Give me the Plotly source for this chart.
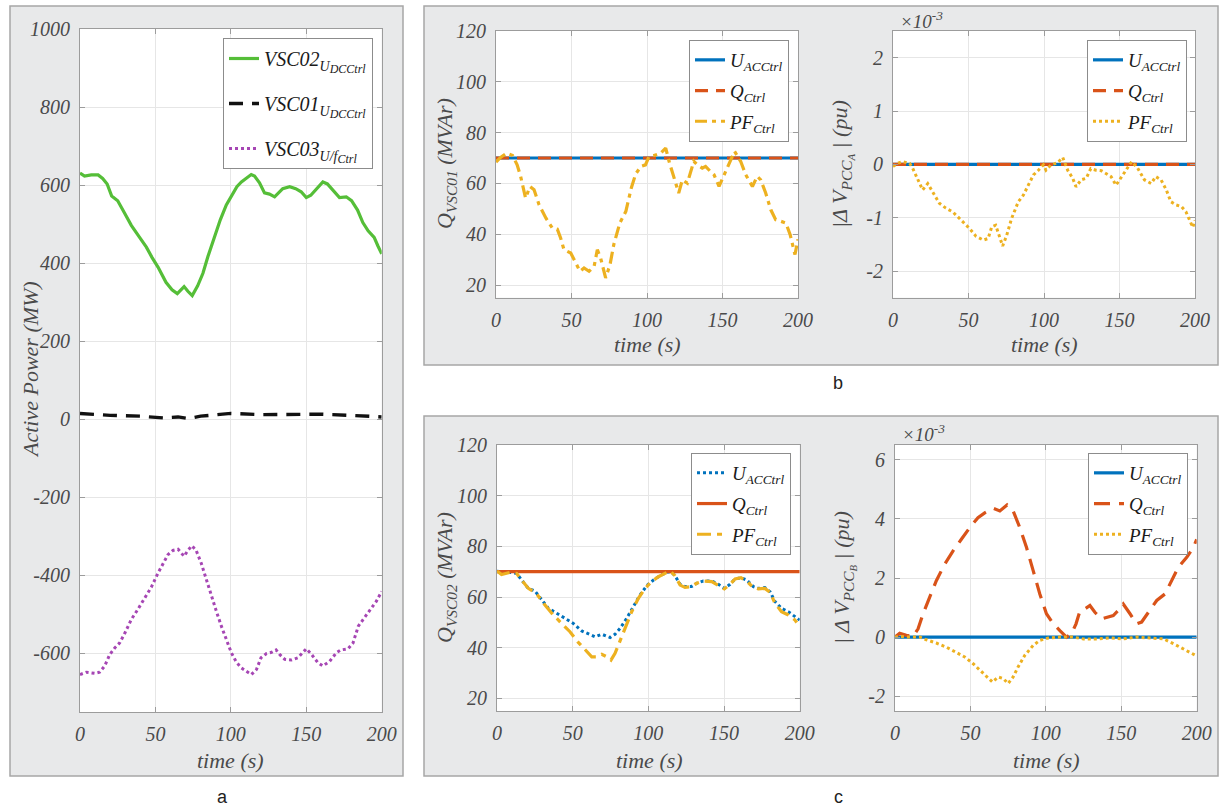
import plotly.graph_objects as go

W, H = 1219, 807

# ---------------- Panel a: active power (MW) ----------------
t_a_vsc02 = [0, 3, 7.5, 12, 15, 18, 21, 25, 29.6, 34, 39.5, 44, 47.7, 51.7, 57, 61, 64.5, 69, 71.5, 74.4,
             78, 81.5, 84.8, 89, 93, 97, 100.7, 104, 107, 110, 113.5, 115.7, 119, 122.3, 125.6, 129, 132,
             134.4, 139, 143, 146.6, 150, 153, 157, 161, 164, 169, 172, 176.5, 180, 184, 187.5, 191, 195,
             197.5, 200]
p_vsc02 = [631, 623, 626, 626, 617, 603, 572, 560, 528, 497, 466, 441, 415, 390, 351, 332, 322, 340, 328, 317,
           342, 374, 417, 464, 511, 549, 574, 596, 608, 617, 627, 623, 606, 580, 577, 570, 583,
           591, 596, 591, 583, 568, 574, 591, 608, 603, 580, 568, 570, 560, 536, 504, 483, 466,
           444, 424]

t_a_vsc01 = [0, 20, 40, 55, 65, 72, 80, 100, 120, 140, 160, 180, 190, 200]
p_vsc01 = [15, 10, 8, 3.5, 6, 2, 8, 15, 12, 13, 13, 10, 8, 6]

t_a_vsc03 = [0, 4.2, 9.7, 13, 16.4, 19.7, 23, 26.3, 29.6, 34, 38.5, 42.9, 47.3, 51.7, 55, 58.3, 61.6, 65, 69,
             71.5, 74.2, 77, 80.4, 83.7, 87, 90.4, 93.7, 97, 100.3, 103.6, 107, 110, 113.6, 117, 120, 123.7,
             127, 130, 132.5, 135.7, 140, 144.5, 150, 153, 157.8, 161, 165.5, 170, 173, 177.7, 181, 184.5,
             189, 193, 196.5, 200]
p_vsc03 = [-654, -648, -651, -648, -632, -603, -586, -573, -549, -513, -486, -458, -430, -394, -369, -347, -336,
           -333, -351, -336, -324, -336, -369, -411, -454, -492, -530, -564, -598, -622, -637, -645, -654, -641,
           -611, -600, -597, -591, -603, -615, -617, -611, -588, -600, -624, -632, -620, -598, -591, -588, -573,
           -530, -505, -483, -466, -441]

# ---------------- Panel b: VSC01 reactive power and PCC A voltage ----------------
t_const = [0, 200]
q_vsc01_uac = [70, 70]
q_vsc01_qctrl = [70, 70]
t_b_pf = [0, 3, 7, 11, 14, 16.3, 19.6, 22.5, 25.2, 28.5, 33, 37.3, 40.6, 42.8, 45, 49.5, 52.8, 55.6, 58.3,
          61.6, 65, 67.1, 69.3, 72.6, 75.5, 78, 82, 86, 89.6, 92.5, 96, 99, 101.3, 104.6, 109, 112.4, 114.6,
          118, 121, 123.4, 126.7, 131, 133.3, 136.6, 138.8, 142, 144.4, 147.7, 151, 154.3, 158, 162, 165.4,
          169.8, 173, 175.3, 178.6, 182, 185.2, 188.6, 192, 194.8, 198, 200]
q_vsc01_pf = [68.4, 70.2, 71.9, 71, 67.3, 62.8, 54.2, 58.8, 57.5, 51.6, 46.4, 42.4, 42, 38.5, 33.9, 32.6, 28.7,
              25.4, 26.7, 25.4, 27.4, 33.9, 30.6, 22.8, 28, 35.9, 44.4, 49, 58.2, 63.7, 66.7, 67.3, 70.6, 71,
              71.9, 73.9, 68.7, 62.1, 56.2, 61.4, 60.1, 68.7, 67.3, 66, 66.7, 64.7, 63.4, 58.8, 63.4, 68, 72.6,
              68.7, 63.4, 58.8, 62.8, 61.4, 56.2, 49.6, 45.7, 45.1, 44.4, 39.8, 32, 38]

dv_a_uac = [0, 0]
dv_a_qctrl = [0, 0]
t_b_dv_pf = [0, 3, 6.4, 11, 13, 16.3, 19.6, 23, 26.3, 30.7, 35, 39.5, 42.8, 46, 50.6, 55, 59.8, 63, 65.4, 68,
             70.9, 72.6, 75.3, 78.6, 83, 86.3, 89.6, 93, 96.3, 99.6, 101.3, 104.6, 109, 112.4, 115.7, 119,
             121.2, 124.6, 128, 131, 134.4, 138, 141, 144.4, 147.7, 151, 154.3, 158, 162, 166.5, 171, 174,
             177.5, 181, 184, 187.5, 191, 194, 196.5, 198.5, 200]
dv_a_pf = [-0.04, 0.02, 0.05, 0.02, -0.07, -0.29, -0.48, -0.36, -0.51, -0.73, -0.82, -0.89, -0.98, -1.07, -1.2,
           -1.35, -1.42, -1.39, -1.17, -1.14, -1.39, -1.53, -1.33, -1.01, -0.7, -0.58, -0.39, -0.2, -0.11, -0.01,
           -0.11, -0.01, 0.03, 0.13, -0.11, -0.26, -0.42, -0.29, -0.26, -0.08, -0.11, -0.12, -0.17, -0.23, -0.39,
           -0.26, -0.11, 0.05, -0.07, -0.29, -0.36, -0.23, -0.29, -0.48, -0.7, -0.76, -0.79, -0.89, -1.04, -1.18,
           -1.05]

# ---------------- Panel c: VSC02 reactive power and PCC B voltage ----------------
t_c_uac = [0, 3, 8.6, 13, 16.3, 20.7, 25, 29.5, 34, 39.4, 45, 50.4, 56, 61.5, 64.8, 69.2, 74.7, 78, 81.3, 85.7,
           90.1, 94.5, 99, 103.4, 107.7, 112.1, 115, 117.6, 121, 124.2, 128.5, 131.9, 136.3, 141.9, 146.3,
           150.2, 154, 157.3, 161.2, 165, 169.4, 172.7, 177, 180.4, 183.7, 188, 192.5, 196.9, 200]
q_vsc02_uac = [70.3, 69.3, 69.7, 69.3, 66.7, 63.4, 62.4, 58.8, 55.5, 53.6, 51.6, 49.6, 46.6, 45, 44.3, 45.3, 44,
               45.3, 47.6, 51.6, 56.2, 60.8, 64.5, 66.7, 68.4, 69.7, 70, 68.4, 65, 64.1, 64.1, 65.4, 66.3, 66.3,
               65, 63.4, 65, 67.1, 67.6, 66.7, 64.1, 63.4, 63.7, 62.1, 58.2, 55.5, 54.2, 52.2, 50.9]
q_vsc02_qctrl = [70, 70]
t_c_pf = [0, 3, 8.6, 13, 16.3, 20.7, 26, 31.7, 37.2, 42.7, 48.2, 53.7, 58.2, 62.6, 65.9, 69.2, 72.5, 75.3, 78,
          81.3, 84.6, 89, 93.4, 97.8, 102.2, 106.6, 111, 114.3, 117.6, 121, 124.2, 128.5, 131.9, 136.3, 141.9,
          146.3, 150.2, 154, 157.3, 161.2, 165, 169.4, 172.7, 177, 180.4, 183.7, 188, 192.5, 196.9, 200]
q_vsc02_pf = [70.3, 68.9, 69.7, 69.3, 66.7, 63.4, 61.4, 56.8, 52.9, 49.6, 46.3, 42.1, 39.1, 36.4, 36.4, 37.4,
              36.4, 35.1, 37.8, 42.4, 47.6, 54.2, 59.5, 63.4, 66.1, 68, 69.3, 70.3, 68.4, 64.7, 63.8, 64.1, 65.4,
              66.3, 66.1, 64.7, 63.2, 65, 67.1, 67.6, 66.3, 63.7, 63.2, 63.4, 61.8, 57.5, 54.2, 52.9, 50.9, 48.3]

dv_b_uac = [0, 0]
t_c_dv_q = [0, 3.1, 7.5, 12, 15.3, 18.6, 23, 27.4, 33, 38.5, 44, 49.6, 55, 59.7, 65, 69.5, 74.3, 78.3, 82.7,
            87.2, 91.6, 96, 100.4, 104.9, 109.3, 113.7, 117, 120, 122.6, 126, 129.2, 132.5, 137, 140.3, 144.7,
            148, 151.3, 155.8, 160.2, 163.5, 168, 173.5, 179, 183.4, 187.8, 193.4, 197.8, 200]
dv_b_qctrl = [0, 0.13, 0.06, 0.02, 0.28, 0.79, 1.35, 1.91, 2.47, 2.92, 3.31, 3.71, 4.04, 4.21, 4.36, 4.27, 4.47,
              4.27, 3.71, 3.03, 2.25, 1.46, 0.79, 0.45, 0.22, 0, 0.11, 0.45, 0.88, 0.96, 1.07, 0.84, 0.62, 0.67,
              0.73, 0.9, 1.12, 0.79, 0.45, 0.51, 0.84, 1.24, 1.46, 1.91, 2.36, 2.7, 3.03, 3.31]
t_c_dv_pf = [0, 3, 9.7, 16.4, 20.8, 27.4, 34, 40.7, 46.2, 51.8, 56.2, 60.6, 64.6, 68.4, 71.7, 75, 78.3, 81.6,
             86, 91.6, 96, 101.5, 109.3, 118, 124.8, 133.6, 142.5, 151.3, 160, 169, 178, 184.5, 191, 197.8, 200]
dv_b_pf = [0, 0.02, 0, 0, -0.09, -0.2, -0.34, -0.51, -0.67, -0.9, -1.12, -1.35, -1.52, -1.35, -1.4, -1.57, -1.35,
           -1.01, -0.62, -0.28, -0.11, -0.03, 0, 0, -0.06, -0.06, -0.03, -0.06, 0, -0.03, -0.06, -0.22, -0.39,
           -0.56, -0.64]

# ---------------- Tick labels ----------------
x_ticks = [0, 50, 100, 150, 200]
x_ticktext = ["0", "50", "100", "150", "200"]
a_yticks = [-600, -400, -200, 0, 200, 400, 600, 800, 1000]
a_yticktext = ["-600", "-400", "-200", "0", "200", "400", "600", "800", "1000"]
q_yticks = [20, 40, 60, 80, 100, 120]
q_yticktext = ["20", "40", "60", "80", "100", "120"]
dva_yticks = [-2, -1, 0, 1, 2]
dva_yticktext = ["-2", "-1", "0", "1", "2"]
dvb_yticks = [-2, 0, 2, 4, 6]
dvb_yticktext = ["-2", "0", "2", "4", "6"]

# ---------------- Styling ----------------
BLUE = "#0072BD"
RED = "#D95319"
YEL = "#EDB120"
GREEN = "#55BE38"
PURPLE = "#A646B4"
BLACK = "#111111"
SERIF = "Liberation Serif, DejaVu Serif, serif"
TXT = "#4a4a4a"


def fx(px):
    return px / W


def fy(py):
    return 1 - py / H


fig = go.Figure()


def add_line(x, y, name, color, axis, legend, group, width=3.2, dash="solid"):
    fig.add_trace(go.Scatter(x=x, y=y, mode="lines", line=dict(color=color, width=width, dash=dash),
                             name=name, xaxis="x" + axis, yaxis="y" + axis, legend=legend,
                             legendgroup=group))


SUBA = "<sub>U<sub><span style='font-size:12px'>DCCtrl</span></sub></sub>"
SUBF = "<sub>U/f<sub><span style='font-size:12px'>Ctrl</span></sub></sub>"

# panel a
add_line(t_a_vsc02, p_vsc02, "VSC02" + SUBA, GREEN, "", "legend", "a1")
add_line(t_a_vsc01, p_vsc01, "VSC01" + SUBA, BLACK, "", "legend", "a2", 3.4, "14px,9px")
add_line(t_a_vsc03, p_vsc03, "VSC03" + SUBF, PURPLE, "", "legend", "a3", 3, "3px,3px")

# panel b left
add_line(t_const, q_vsc01_uac, "U<sub>ACCtrl</sub>", BLUE, "2", "legend2", "b1")
add_line(t_const, q_vsc01_qctrl, "Q<sub>Ctrl</sub>", RED, "2", "legend2", "b2", 3.2, "13px,8px")
add_line(t_b_pf, q_vsc01_pf, "PF<sub>Ctrl</sub>", YEL, "2", "legend2", "b3", 3.2, "12px,5px,4px,5px")

# panel b right
add_line(t_const, dv_a_uac, "U<sub>ACCtrl</sub>", BLUE, "3", "legend3", "c1")
add_line(t_const, dv_a_qctrl, "Q<sub>Ctrl</sub>", RED, "3", "legend3", "c2", 3.2, "13px,8px")
add_line(t_b_dv_pf, dv_a_pf, "PF<sub>Ctrl</sub>", YEL, "3", "legend3", "c3", 3, "3px,3px")

# panel c left
add_line(t_c_uac, q_vsc02_uac, "U<sub>ACCtrl</sub>", BLUE, "4", "legend4", "d1", 3, "3px,3px")
add_line(t_const, q_vsc02_qctrl, "Q<sub>Ctrl</sub>", RED, "4", "legend4", "d2")
add_line(t_c_pf, q_vsc02_pf, "PF<sub>Ctrl</sub>", YEL, "4", "legend4", "d3", 3.2, "14px,6px,5px,6px")

# panel c right
add_line(t_const, dv_b_uac, "U<sub>ACCtrl</sub>", BLUE, "5", "legend5", "e1")
add_line(t_c_dv_q, dv_b_qctrl, "Q<sub>Ctrl</sub>", RED, "5", "legend5", "e2", 3.2, "16px,9px")
add_line(t_c_dv_pf, dv_b_pf, "PF<sub>Ctrl</sub>", YEL, "5", "legend5", "e3", 3, "3px,3px")

tickfont = dict(family=SERIF, size=20, color=TXT, style="italic")
common_x = dict(range=[0, 200], tickmode="array", tickvals=x_ticks, ticktext=x_ticktext,
                showline=True, mirror="ticks", linecolor="#9c9c9c", linewidth=1,
                ticks="inside", ticklen=5, tickcolor="#9c9c9c", showgrid=True, gridcolor="#e6e6e6",
                zeroline=False, tickfont=tickfont, ticklabelstandoff=4, fixedrange=True, automargin=False)
common_y = dict(showline=True, mirror="ticks", linecolor="#9c9c9c", linewidth=1,
                ticks="inside", ticklen=5, tickcolor="#9c9c9c", showgrid=True, gridcolor="#e6e6e6",
                zeroline=False, tickfont=tickfont, tickmode="array", ticklabelstandoff=5, fixedrange=True,
                automargin=False)

doms = {
    "a": ((80, 381.7), (29, 712)),
    "bL": ((496, 798), (31, 297.7)),
    "bR": ((893, 1195), (31, 297.7)),
    "cL": ((497, 799.7), (445, 711)),
    "cR": ((895, 1196.7), (445, 711)),
}


def xd(k):
    (x0, x1), _ = doms[k]
    return [fx(x0), fx(x1)]


def yd(k):
    _, (y0, y1) = doms[k]
    return [fy(y1), fy(y0)]


layout = dict(
    width=W, height=H, autosize=False,
    margin=dict(l=0, r=0, t=0, b=0, pad=0, autoexpand=False),
    paper_bgcolor="white", plot_bgcolor="white",
    showlegend=True,
    xaxis=dict(domain=xd("a"), anchor="y", **common_x),
    yaxis=dict(domain=yd("a"), anchor="x", range=[-750, 1000], tickvals=a_yticks, ticktext=a_yticktext, **common_y),
    xaxis2=dict(domain=xd("bL"), anchor="y2", **common_x),
    yaxis2=dict(domain=yd("bL"), anchor="x2", range=[15, 120], tickvals=q_yticks, ticktext=q_yticktext, **common_y),
    xaxis3=dict(domain=xd("bR"), anchor="y3", **common_x),
    yaxis3=dict(domain=yd("bR"), anchor="x3", range=[-2.5, 2.5], tickvals=dva_yticks, ticktext=dva_yticktext, **common_y),
    xaxis4=dict(domain=xd("cL"), anchor="y4", **common_x),
    yaxis4=dict(domain=yd("cL"), anchor="x4", range=[15, 120], tickvals=q_yticks, ticktext=q_yticktext, **common_y),
    xaxis5=dict(domain=xd("cR"), anchor="y5", **common_x),
    yaxis5=dict(domain=yd("cR"), anchor="x5", range=[-2.5, 6.5], tickvals=dvb_yticks, ticktext=dvb_yticktext, **common_y),
)


def leg(xr, yt, size, gap):
    return dict(x=fx(xr), y=fy(yt), xanchor="right", yanchor="top", xref="paper", yref="paper",
                bgcolor="white", bordercolor="#8c8c8c", borderwidth=1,
                font=dict(family=SERIF, size=size, color="#1a1a1a", style="italic"),
                traceorder="grouped", tracegroupgap=gap, itemwidth=30)


layout["legend"] = leg(373, 38, 20, 16)
layout["legend2"] = leg(789, 40, 19, 3)
layout["legend3"] = leg(1187, 40, 19, 3)
layout["legend4"] = leg(791, 453, 19, 3)
layout["legend5"] = leg(1188, 453, 19, 3)

fig.update_layout(**layout)

# background panel boxes and white plot areas
shapes = []
for (x0, y0, x1, y1) in [(10, 6, 403, 776), (424, 6, 1218, 365), (424, 416, 1218, 776)]:
    shapes.append(dict(type="rect", xref="paper", yref="paper", x0=fx(x0), x1=fx(x1), y0=fy(y1), y1=fy(y0),
                       fillcolor="#e8e9ea", line=dict(color="#a6a6a6", width=1.5), layer="below"))
for k, ((x0, x1), (y0, y1)) in doms.items():
    shapes.append(dict(type="rect", xref="paper", yref="paper", x0=fx(x0), x1=fx(x1), y0=fy(y1), y1=fy(y0),
                       fillcolor="white", line=dict(width=0), layer="below"))
fig.update_layout(shapes=shapes)

titlefont = dict(family=SERIF, size=22, color=TXT, style="italic")
ann = []


def add_text(text, px, py, angle=0, font=titlefont):
    ann.append(dict(text=text, x=fx(px), y=fy(py), xref="paper", yref="paper", showarrow=False,
                    xanchor="center", yanchor="middle", textangle=angle, font=font))


add_text("Active Power (MW)", 30, 370, -90)
add_text("time (s)", 231, 760)
add_text("Q<sub>VSC01</sub> (MVAr)", 446, 164, -90)
add_text("time (s)", 647, 345)
add_text("|Δ V<sub>PCC<sub>A</sub></sub> | (pu)", 842, 164, -90)
add_text("time (s)", 1044, 345)
add_text("Q<sub>VSC02</sub> (MVAr)", 446, 578, -90)
add_text("time (s)", 649, 760)
add_text("| Δ V<sub>PCC<sub>B</sub></sub> | (pu)", 844, 578, -90)
add_text("time (s)", 1046, 760)

expfont = dict(family=SERIF, size=19, color=TXT, style="italic")
add_text("×10<sup>-3</sup>", 921, 20, 0, expfont)
add_text("×10<sup>-3</sup>", 923, 433, 0, expfont)

labfont = dict(family="Liberation Sans, Arial, sans-serif", size=18, color="#222222")
add_text("a", 222, 797, 0, labfont)
add_text("b", 838, 383, 0, labfont)
add_text("c", 838, 797, 0, labfont)

fig.update_layout(annotations=ann)

fig.write_html("out.html", config={"displayModeBar": False},
               post_script="document.body.style.margin='0';document.body.style.overflow='hidden';")
